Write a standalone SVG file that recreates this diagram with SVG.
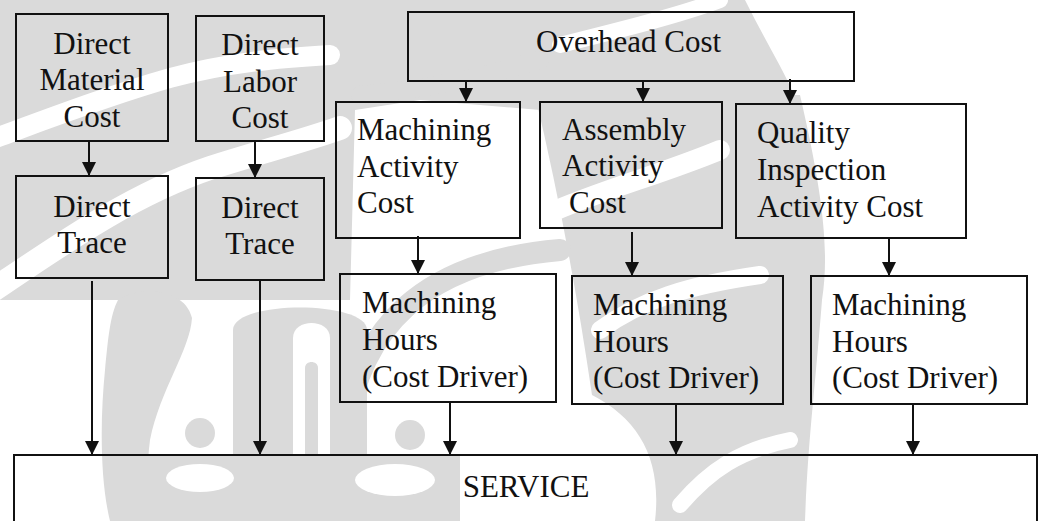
<svg xmlns="http://www.w3.org/2000/svg" width="1044" height="521" viewBox="0 0 1044 521">
  <style>
    .box { fill: none; stroke: #111; stroke-width: 2; }
    .lbl { font-family: "Liberation Serif", "Times New Roman", serif; font-size: 31px; fill: #111; }
    .mid { text-anchor: middle; }
    .wire { stroke: #111; stroke-width: 2; fill: none; marker-end: url(#head); }
    .wm { fill: #dadada; }
    .wmline { fill: none; stroke: #dadada; stroke-linecap: round; }
    .cut { fill: none; stroke: #fff; stroke-linecap: round; }
  </style>
  <defs>
    <marker id="head" markerUnits="userSpaceOnUse" markerWidth="14" markerHeight="14" refX="14" refY="7" orient="auto">
      <path d="M0,0 L14,7 L0,14 Z" fill="#111"/>
    </marker>
  </defs>

  <rect width="1044" height="521" fill="#fff"/>

  <!-- faint background emblem -->
  <g id="emblem">
    <!-- upper sweep -->
    <path class="wm" d="M0,0 H745 C770,50 790,80 800,110 H540 L420,100 L355,110 L350,300 H0 Z"/>
    <!-- right crescent -->
    <path class="wm" d="M535,95 H800 C822,190 830,250 822,300 C815,390 808,440 805,521 H655 C662,460 640,420 592,395 C578,300 560,200 535,95 Z"/>
    <!-- arcs through the middle -->
    <path class="wmline" stroke-width="22" d="M345,430 C360,330 420,262 560,250"/>
    <path class="wmline" stroke-width="18" d="M360,95 C420,90 470,80 540,60"/>
    <!-- light streaks -->
    <path class="cut" stroke-width="20" d="M-10,140 C50,118 110,95 170,78 C230,62 280,58 330,55"/>
    <path class="cut" stroke-width="24" d="M-10,292 C60,245 130,195 210,168 C260,152 300,142 340,128"/>
    <path class="cut" stroke-width="16" d="M560,45 C620,30 680,15 720,0"/>
    <path class="cut" stroke-width="20" d="M545,215 C600,190 660,175 720,150"/>
    <path class="cut" stroke-width="18" d="M600,330 C640,300 690,285 760,275"/>
    <path class="cut" stroke-width="16" d="M680,505 C710,470 740,450 790,440"/>
    <!-- lower figure -->
    <path class="wm" d="M118,300 C140,285 185,288 192,318 C190,350 160,390 150,440 C146,470 148,500 150,521 H110 C100,480 100,420 105,370 C108,340 110,315 118,300 Z"/>
    <path class="wm" d="M110,455 H460 V521 H110 Z"/>
    <path class="wm" d="M233,455 V330 C233,300 367,300 367,330 V455 Z"/>
    <path d="M293,455 V338 C293,318 330,318 330,338 V455 Z" fill="#fff"/>
    <path class="wm" d="M305,455 V368 C305,360 318,360 318,368 V455 Z"/>
    <ellipse cx="200" cy="478" rx="34" ry="14" fill="#fff"/>
    <ellipse cx="395" cy="480" rx="40" ry="16" fill="#fff"/>
    <circle class="wm" cx="200" cy="433" r="15"/>
    <circle class="wm" cx="410" cy="435" r="15"/>
  </g>

  <!-- connectors -->
  <g id="connectors">
    <line class="wire" x1="89" y1="141" x2="89" y2="176"/>
    <line class="wire" x1="255" y1="141" x2="255" y2="178"/>
    <line class="wire" x1="466" y1="81" x2="466" y2="102"/>
    <line class="wire" x1="643" y1="81" x2="643" y2="102"/>
    <line class="wire" x1="790" y1="79" x2="790" y2="104"/>
    <line class="wire" x1="418" y1="236" x2="418" y2="274"/>
    <line class="wire" x1="632" y1="232" x2="632" y2="276"/>
    <line class="wire" x1="889" y1="237" x2="889" y2="276"/>
    <line class="wire" x1="92" y1="281" x2="92" y2="455"/>
    <line class="wire" x1="260" y1="281" x2="260" y2="455"/>
    <line class="wire" x1="450" y1="402" x2="450" y2="455"/>
    <line class="wire" x1="676" y1="404" x2="676" y2="455"/>
    <line class="wire" x1="913" y1="404" x2="913" y2="455"/>
  </g>

  <g id="direct-material-cost">
    <rect class="box" x="16" y="14" width="152" height="127"/>
    <text class="lbl mid" x="92" y="54">Direct</text>
    <text class="lbl mid" x="92" y="90">Material</text>
    <text class="lbl mid" x="92" y="127">Cost</text>
  </g>

  <g id="direct-trace-1">
    <rect class="box" x="16" y="176" width="152" height="102"/>
    <text class="lbl mid" x="92" y="217">Direct</text>
    <text class="lbl mid" x="92" y="253">Trace</text>
  </g>

  <g id="direct-labor-cost">
    <rect class="box" x="196" y="16" width="128" height="125"/>
    <text class="lbl mid" x="260" y="55">Direct</text>
    <text class="lbl mid" x="260" y="92">Labor</text>
    <text class="lbl mid" x="260" y="128">Cost</text>
  </g>

  <g id="direct-trace-2">
    <rect class="box" x="196" y="178" width="128" height="102"/>
    <text class="lbl mid" x="260" y="218">Direct</text>
    <text class="lbl mid" x="260" y="254">Trace</text>
  </g>

  <g id="overhead-cost">
    <rect class="box" x="408" y="12" width="446" height="69"/>
    <text class="lbl" x="536" y="52">Overhead Cost</text>
  </g>

  <g id="machining-activity-cost">
    <rect class="box" x="336" y="102" width="184" height="136"/>
    <text class="lbl" x="357" y="140">Machining</text>
    <text class="lbl" x="357" y="177">Activity</text>
    <text class="lbl" x="357" y="213">Cost</text>
  </g>

  <g id="assembly-activity-cost">
    <rect class="box" x="540" y="102" width="182" height="126"/>
    <text class="lbl" x="562" y="140">Assembly</text>
    <text class="lbl" x="562" y="176">Activity</text>
    <text class="lbl" x="569" y="213">Cost</text>
  </g>

  <g id="quality-inspection-activity-cost">
    <rect class="box" x="736" y="104" width="230" height="134"/>
    <text class="lbl" x="757" y="143">Quality</text>
    <text class="lbl" x="757" y="180">Inspection</text>
    <text class="lbl" x="757" y="217">Activity Cost</text>
  </g>

  <g id="machining-hours-1">
    <rect class="box" x="340" y="274" width="216" height="128"/>
    <text class="lbl" x="362" y="313">Machining</text>
    <text class="lbl" x="362" y="350">Hours</text>
    <text class="lbl" x="362" y="387">(Cost Driver)</text>
  </g>

  <g id="machining-hours-2">
    <rect class="box" x="572" y="276" width="211" height="128"/>
    <text class="lbl" x="593" y="315">Machining</text>
    <text class="lbl" x="593" y="352">Hours</text>
    <text class="lbl" x="593" y="388">(Cost Driver)</text>
  </g>

  <g id="machining-hours-3">
    <rect class="box" x="811" y="276" width="216" height="128"/>
    <text class="lbl" x="832" y="315">Machining</text>
    <text class="lbl" x="832" y="352">Hours</text>
    <text class="lbl" x="832" y="388">(Cost Driver)</text>
  </g>

  <g id="service">
    <rect class="box" x="14" y="455" width="1023" height="80"/>
    <text class="lbl mid" x="526" y="497">SERVICE</text>
  </g>
</svg>
